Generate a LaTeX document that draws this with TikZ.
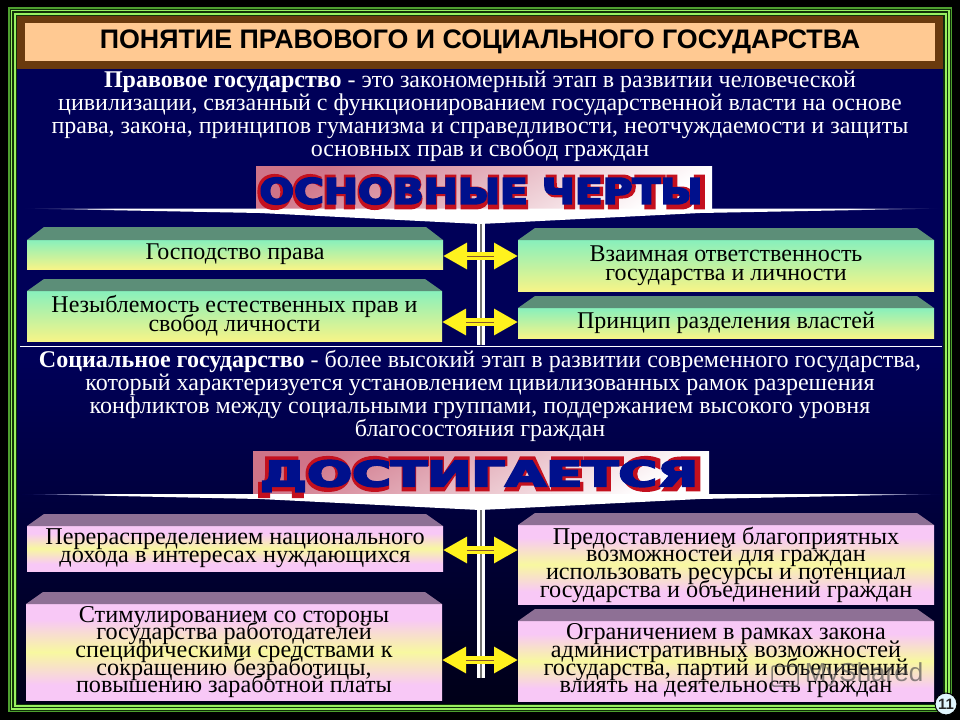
\documentclass[tikz,border=0pt]{standalone}
\usepackage{fontspec}
\setmainfont{Liberation Serif}
\newfontfamily\titlefont{Liberation Sans}
\newfontfamily\headred[FakeBold=8]{DejaVu Sans Bold}
\newfontfamily\headblue[FakeBold=5]{DejaVu Sans Bold}
\usetikzlibrary{arrows.meta,calc}
\lineskiplimit=-40pt
\definecolor{navybg}{HTML}{000058}
\definecolor{navydark}{HTML}{000018}
\definecolor{gtop}{HTML}{88F0BC}
\definecolor{gbot}{HTML}{F6F488}
\definecolor{gface}{HTML}{5C8E78}
\definecolor{ptop}{HTML}{F8C8F6}
\definecolor{pmid}{HTML}{F8F8A0}
\definecolor{pface}{HTML}{8E7095}
\definecolor{peach}{HTML}{FFC992}
\definecolor{brownband}{HTML}{6A3A0E}
\definecolor{bannerpink}{HTML}{CF7488}
\definecolor{headblue}{HTML}{00108C}
\definecolor{headred}{HTML}{C4101E}
\definecolor{fgA}{HTML}{4EA030}
\definecolor{fgB}{HTML}{98F060}
\definecolor{fgC}{HTML}{103008}
\definecolor{arrowyellow}{HTML}{FFF21E}
\pgfdeclarehorizontalshading{wedgeshade}{100bp}{color(0bp)=(navybg); color(25bp)=(navybg); color(30bp)=(white); color(70bp)=(white); color(75bp)=(navybg); color(100bp)=(navybg)}
\pgfdeclareverticalshading{pinkshade}{100bp}{color(0bp)=(ptop); color(33bp)=(ptop); color(50bp)=(pmid); color(67bp)=(ptop); color(100bp)=(ptop)}
\tikzset{
  gbox/.style={draw=none,inner sep=0pt,outer sep=0pt,align=center,text=black,
    top color=gtop,bottom color=gbot,font=\fontsize{24}{19}\selectfont},
  pbox/.style={draw=none,inner sep=0pt,outer sep=0pt,align=center,text=black,
    shading=pinkshade,font=\fontsize{24.2}{17.7}\selectfont},
  para/.style={text=white,align=center,inner sep=0pt,font=\fontsize{24}{23}\selectfont},
  arrowmain/.style={draw=arrowyellow,line width=8pt,{Triangle[length=24pt,width=25pt,fill=arrowyellow]}-{Triangle[length=24pt,width=25pt,fill=arrowyellow]}},
  stripe/.style={draw=brown!70!black,line width=.9pt},
  wedge/.style={shading=wedgeshade},
}
\newcommand{\boxface}[3]{%
  \fill[#3] (#1.north west) -- ([xshift=17pt,yshift=#2]#1.north west) -- ([xshift=-17pt,yshift=#2]#1.north east) -- (#1.north east) -- cycle;}
\newcommand{\linkarrow}[3]{%
  \coordinate (yy) at (0,#3);
  \draw[arrowmain] (#1.east |- yy) -- (#2.west |- yy);
  \draw[stripe,shorten <=24pt,shorten >=24pt,yshift=1.5pt] (#1.east |- yy) -- (#2.west |- yy);
  \draw[stripe,shorten <=24pt,shorten >=24pt,yshift=-1.5pt] (#1.east |- yy) -- (#2.west |- yy);}
\begin{document}
\begin{tikzpicture}[x=1pt,y=-1pt]
\path[use as bounding box,fill=black] (0,0) rectangle (960,720);
% frame
\fill[fgA] (8,7) rectangle (952,712);
\fill[fgC] (9.5,8.5) rectangle (950.5,710.5);
\fill[fgB] (10.5,9.5) rectangle (949.5,709.5);
\fill[fgC] (12,11) rectangle (948,708);
\fill[fgB] (13.5,12.5) rectangle (946.5,706.5);
\fill[fgC] (15.5,14.5) rectangle (944.5,704.5);
\shade[top color=navybg,bottom color=navydark,middle color=navybg] (17,16) rectangle (943,703);
% title
\fill[brownband] (17,16) rectangle (943,69);
\node[fill=peach,minimum width=910pt,minimum height=38pt,inner sep=0pt,outer sep=0pt,
  font=\titlefont\bfseries\fontsize{26.8}{28}\selectfont,text=black] (title) at (480,42) {ПОНЯТИЕ ПРАВОВОГО И СОЦИАЛЬНОГО ГОСУДАРСТВА};
% paragraph 1
\node[para] (p1) at (480,116) {\textbf{Правовое государство} - это закономерный этап в развитии человеческой\\
цивилизации, связанный с функционированием государственной власти на основе\\
права, закона, принципов гуманизма и справедливости, неотчуждаемости и защиты\\
основных прав и свобод граждан};
% banner 1
\shade[top color=bannerpink,bottom color=white,shading angle=30] (256,166) rectangle (712,210);
\shade[wedge] (22,208.5) -- (942,208.5) -- (700,213) -- (480,224) -- (260,213) -- cycle;
\node[inner sep=0pt,text=headred,font=\headred] (h1r) at (482,192) {\resizebox{450pt}{32pt}{ОСНОВНЫЕ ЧЕРТЫ}};
\node[inner sep=0pt,text=headblue,font=\headblue] (h1b) at (481,191) {\resizebox{443pt}{26pt}{ОСНОВНЫЕ ЧЕРТЫ}};
% separator
\coordinate (sepL) at (20,346);
\coordinate (sepR) at (942,346);
\draw[white,line width=.7pt] (sepL) -- (sepR);
% vertical links
\coordinate (v1a) at (481,224);
\coordinate (v1b) at (481,345);
\coordinate (v2a) at (481,510);
\coordinate (v2b) at (481,678);
\foreach \a/\b in {v1a/v1b,v2a/v2b}{
  \draw[white,line width=7.5pt] (\a) -- (\b);
  \draw[black!55,line width=1.5pt,xshift=-1.5pt] (\a) -- (\b);
  \draw[black!55,line width=1.5pt,xshift=1.5pt] (\a) -- (\b);
}
% upper boxes
\node[gbox,minimum width=416pt,minimum height=29pt] (tl1) at (235,254.5) {Господство права};
\node[gbox,minimum width=415pt,minimum height=50pt] (tl2) at (234.5,316) {Незыблемость естественных прав и\\свобод личности};
\node[gbox,minimum width=416pt,minimum height=51pt] (tr1) at (726,265.5) {Взаимная ответственность\\государства и личности};
\node[gbox,minimum width=416pt,minimum height=30pt] (tr2) at (726,323) {Принцип разделения властей};
\boxface{tl1}{13pt}{gface}
\boxface{tl2}{12pt}{gface}
\boxface{tr1}{12pt}{gface}
\boxface{tr2}{12pt}{gface}
\linkarrow{tl1}{tr1}{256}
\linkarrow{tl2}{tr2}{322}
% paragraph 2
\node[para] (p2) at (480,396) {\textbf{Социальное государство} - более высокий этап в развитии современного государства,\\
который характеризуется установлением цивилизованных рамок разрешения\\
конфликтов между социальными группами, поддержанием высокого уровня\\
благосостояния граждан};
% banner 2
\shade[top color=bannerpink,bottom color=white,shading angle=30] (253,451) rectangle (709,495);
\shade[wedge] (22,494) -- (942,494) -- (700,499) -- (480,510) -- (260,499) -- cycle;
\node[inner sep=0pt,text=headred,font=\headred] (h2r) at (480,477) {\resizebox{446pt}{32pt}{ДОСТИГАЕТСЯ}};
\node[inner sep=0pt,text=headblue,font=\headblue] (h2b) at (479,476) {\resizebox{438pt}{26pt}{ДОСТИГАЕТСЯ}};
% lower boxes
\node[pbox,minimum width=416pt,minimum height=45pt] (bl1) at (235,548.5) {Перераспределением национального\\дохода в интересах нуждающихся};
\node[pbox,minimum width=416pt,minimum height=96pt] (bl2) at (234,652) {Стимулированием со стороны\\государства работодателей\\специфическими средствами к\\сокращению безработицы,\\повышению заработной платы};
\node[pbox,minimum width=416pt,minimum height=79pt] (br1) at (726,564.5) {Предоставлением благоприятных\\возможностей для граждан\\использовать ресурсы и потенциал\\государства и объединений граждан};
\node[pbox,minimum width=416pt,minimum height=80pt] (br2) at (726,661) {Ограничением в рамках закона\\административных возможностей\\государства, партий и объединений\\влиять на деятельность граждан};
\boxface{bl1}{12pt}{pface}
\boxface{bl2}{12pt}{pface}
\boxface{br1}{12pt}{pface}
\boxface{br2}{12pt}{pface}
\linkarrow{bl1}{br1}{550}
\linkarrow{bl2}{br2}{660}
% watermark
\draw[black!70,opacity=.65,line width=1.5pt,rounded corners=2pt] (772,666) rectangle (798,686);
\node[opacity=.65,text=black!70,inner sep=0pt,font=\titlefont\fontsize{26}{26}\selectfont] (mark) at (864,675) {MyShared};
% page badge
\node[circle,draw=black,line width=1pt,fill=cyan!12,minimum size=22pt,inner sep=0pt,
  font=\titlefont\bfseries\fontsize{15}{15}\selectfont,text=black!85] (badge) at (946,704) {11};
\end{tikzpicture}
\end{document}
